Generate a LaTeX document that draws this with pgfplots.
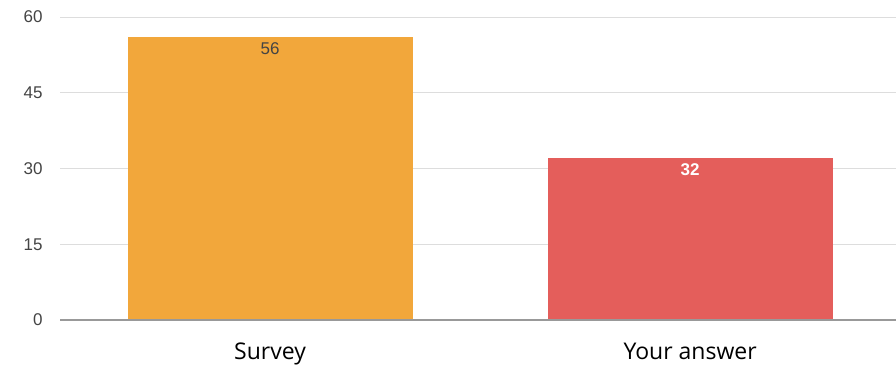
\documentclass[border=0pt]{standalone}
\usepackage{pgfplots}
\pgfplotsset{compat=1.18}
\usepackage{fontspec}
\setmainfont{Liberation Sans}
\newfontfamily\xlab{Open Sans}
\definecolor{barorange}{HTML}{F2A73B}
\definecolor{barred}{HTML}{E45E5B}
\definecolor{gridc}{HTML}{DDDDDD}
\definecolor{tickc}{HTML}{444444}
\begin{document}
\begin{tikzpicture}[x=1pt,y=1pt]
\begin{axis}[
  at={(60pt,50pt)}, anchor=south west,
  scale only axis, width=836pt, height=303pt,
  xmin=-0.5, xmax=1.49, ymin=0, ymax=60,
  ytick={0,15,30,45,60},
  xtick={0,1}, xticklabels={Survey,Your answer},
  ymajorgrids, grid style={gridc, line width=1pt},
  axis line style={draw=none},
  major tick style={draw=none},
  yticklabel style={font=\fontsize{17}{17}\selectfont, text=tickc, xshift=-14pt},
  xticklabel style={font=\xlab\fontsize{23}{23}\selectfont, text=black, yshift=-15pt},
  /pgf/number format/assume math mode=true,
  ybar, bar width=285pt, bar shift=0pt,
  nodes near coords,
  every node near coord/.append style={anchor=north, yshift=-2pt, font=\fontsize{17}{17}\selectfont},
]
\addplot[fill=barorange, draw=none, nodes near coords style={text=tickc}] coordinates {(0,56)};
\addplot[fill=barred, draw=none, nodes near coords style={text=white, font=\bfseries\fontsize{17}{17}\selectfont}] coordinates {(1,32)};
\draw[color=gray!80, line width=1.5pt] (axis cs:-0.5,0) -- (axis cs:1.49,0);
\end{axis}
\pgfresetboundingbox
\useasboundingbox (0,0) rectangle (896,370);
\end{tikzpicture}
\end{document}
